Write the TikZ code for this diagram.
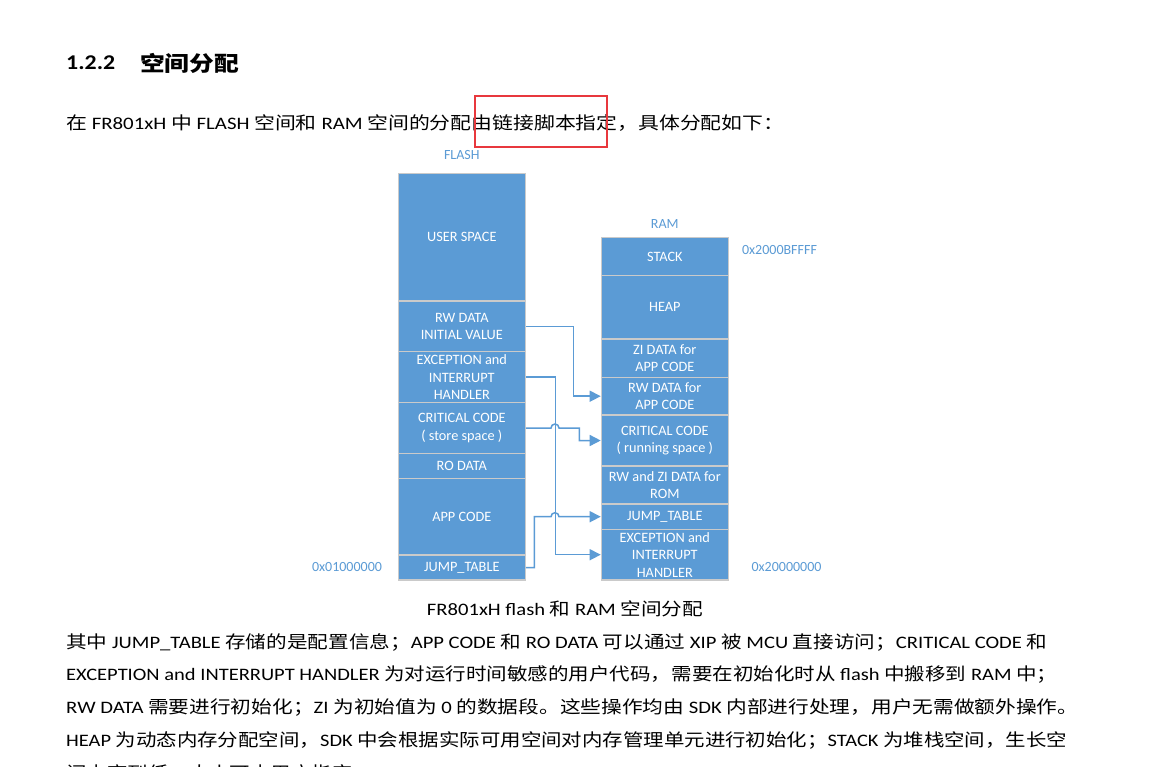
\documentclass[tikz,border=0pt]{standalone}
\usepackage{fontspec}
\setmainfont{Carlito}
\newfontfamily\cjk{Noto Sans CJK SC}
\usetikzlibrary{arrows.meta}
\definecolor{boxblue}{HTML}{5B9BD5}
\definecolor{rimgray}{HTML}{CACACA}
\definecolor{markred}{HTML}{E8383D}
\newcommand\zh[1]{{\cjk #1}}
\newcommand\fitw[2]{\resizebox{#1}{\height}{#2}}
\begin{document}
\begin{tikzpicture}[x=1pt,y=-1pt,
  mem/.style={draw=rimgray, line width=1.2pt, fill=boxblue, text=white, align=center,
    inner sep=0pt, minimum width=127pt, font=\fontsize{14.3}{17.5}\selectfont},
  lbl/.style={text=boxblue, font=\fontsize{14}{17}\selectfont, inner sep=0pt},
  conn/.style={draw=boxblue, line width=1.5pt, -{Triangle[length=11pt,width=11pt]}},
  body/.style={anchor=west, inner sep=0pt, text=black, font=\fontsize{17.5}{21}\selectfont},
]
\useasboundingbox[fill=white] (0,0) rectangle (1153,766);

% heading and intro
\node[body, font=\fontsize{21}{25}\selectfont\bfseries] (hnum) at (66,63) {\fitw{49pt}{1.2.2}};
\node[body, font=\fontsize{21}{25}\selectfont\bfseries] (htitle) at (140,63) {\fitw{99pt}{\zh{空间分配}}};
\node[body] (intro) at (66,123) {\fitw{718pt}{\zh{在} FR801xH \zh{中} FLASH \zh{空间和} RAM \zh{空间的分配由链接脚本指定，具体分配如下：}}};
\node[draw=markred, line width=2pt, minimum width=132.5pt, minimum height=51.5pt, inner sep=0pt] (hl) at (540.75,121.25) {};

% FLASH column
\node[lbl] (flashlbl) at (461.8,155) {FLASH};
\node[mem, minimum height=127.7pt] (fuser) at (461.8,237.2) {USER SPACE};
\node[mem, minimum height=50.7pt] (frw) at (461.8,326.3) {RW DATA\\INITIAL VALUE};
\node[mem, minimum height=51pt] (fexc) at (461.8,377.2) {EXCEPTION and\\INTERRUPT\\HANDLER};
\node[mem, minimum height=50.6pt] (fcrit) at (461.8,428) {CRITICAL CODE\\( store space )};
\node[mem, minimum height=25.4pt] (fro) at (461.8,466) {RO DATA};
\node[mem, minimum height=76.3pt] (fapp) at (461.8,516.8) {APP CODE};
\node[mem, minimum height=25pt] (fjump) at (461.8,567.5) {JUMP\_TABLE};
\node[lbl] (flashaddr) at (347,567) {0x01000000};

% RAM column
\node[lbl] (ramlbl) at (664.8,224) {RAM};
\node[mem, minimum height=38pt] (rstack) at (664.8,256.7) {STACK};
\node[mem, minimum height=63.3pt] (rheap) at (664.8,307.3) {HEAP};
\node[mem, minimum height=38.3pt] (rzi) at (664.8,358.2) {ZI DATA for\\APP CODE};
\node[mem, minimum height=37.7pt] (rrw) at (664.8,396.2) {RW DATA for\\APP CODE};
\node[mem, minimum height=51pt] (rcrit) at (664.8,440.5) {CRITICAL CODE\\( running space )};
\node[mem, minimum height=38pt] (rrom) at (664.8,485) {RW and ZI DATA for\\ROM};
\node[mem, minimum height=25.3pt] (rjump) at (664.8,516.7) {JUMP\_TABLE};
\node[mem, minimum height=50.7pt] (rexc) at (664.8,554.7) {EXCEPTION and\\INTERRUPT\\HANDLER};
\node[lbl] (ramtop) at (779.5,250) {0x2000BFFFF};
\node[lbl] (rambot) at (786.5,567) {0x20000000};

% connectors
\draw[conn] (frw.east) -- ++(47.4,0) |- (rrw.west);
\draw[conn] (fexc.east) -- ++(29.7,0) |- (rexc.west);
\draw[conn] (fcrit.east) -- (551,428) arc[start angle=180,end angle=0,radius=4pt] -- (579.3,428) |- (rcrit.west);
\draw[conn] (fjump.east) -- (534.3,567.5) |- (551,516.7) arc[start angle=180,end angle=0,radius=4pt] -- (rjump.west);

% caption and body
\node[body, anchor=center] (caption) at (565,609) {\fitw{276pt}{FR801xH flash \zh{和} RAM \zh{空间分配}}};
\node[body] (l1) at (66,642) {\fitw{981pt}{\zh{其中} JUMP\_TABLE \zh{存储的是配置信息；}APP CODE \zh{和} RO DATA \zh{可以通过} XIP \zh{被} MCU \zh{直接访问；}CRITICAL CODE \zh{和}}};
\node[body] (l2) at (66,675) {\fitw{991pt}{EXCEPTION and INTERRUPT HANDLER \zh{为对运行时间敏感的用户代码，需要在初始化时从} flash \zh{中搬移到} RAM \zh{中；}}};
\node[body] (l3) at (66,707) {\fitw{1012pt}{RW DATA \zh{需要进行初始化；}ZI \zh{为初始值为} 0 \zh{的数据段。这些操作均由} SDK \zh{内部进行处理，用户无需做额外操作。}}};
\node[body] (l4) at (66,740) {\fitw{1001pt}{HEAP \zh{为动态内存分配空间，}SDK \zh{中会根据实际可用空间对内存管理单元进行初始化；}STACK \zh{为堆栈空间，生长空}}};
\node[body] (l5) at (66,773) {\fitw{307pt}{\zh{间由高到低，大小可由用户指定。}}};
\end{tikzpicture}
\end{document}
